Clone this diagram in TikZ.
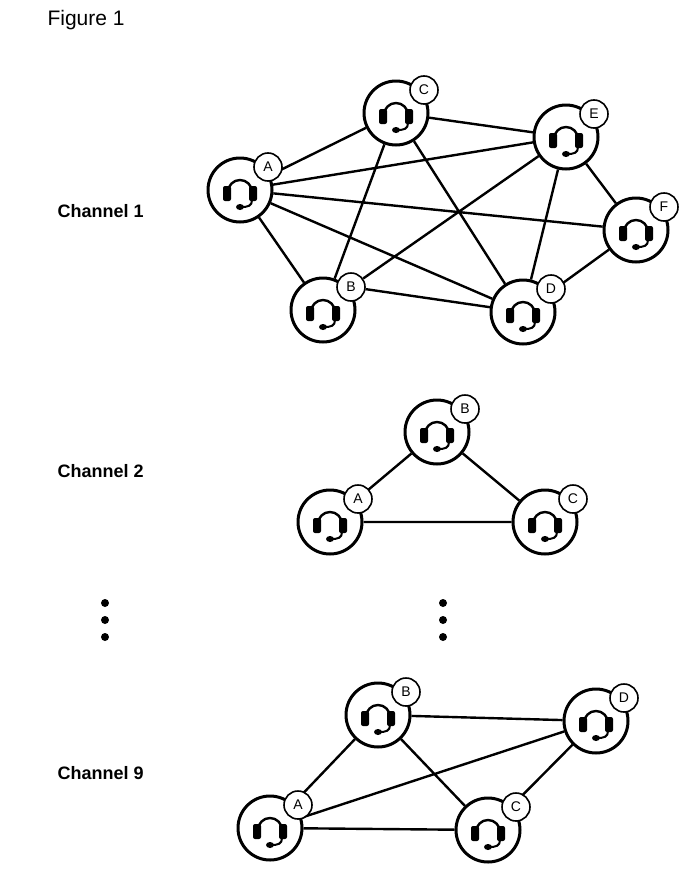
\documentclass[tikz,border=0pt]{standalone}
\usepackage{fontspec}
\setmainfont{Liberation Sans}
\usetikzlibrary{calc,backgrounds}
\begin{document}
\begin{tikzpicture}[x=1pt,y=-1pt,
  hs/.style={circle,draw,line width=3pt,minimum size=64pt,inner sep=0pt,fill=white},
  lb/.style={circle,draw,line width=1.6pt,minimum size=28pt,inner sep=0pt,fill=white,font=\fontsize{14}{14}\selectfont},
  ed/.style={line width=2.4pt},
  ch/.style={font=\bfseries\fontsize{18}{18}\selectfont,anchor=west},
  dot/.style={circle,fill,inner sep=0pt,minimum size=8pt}]
\useasboundingbox (0,0) rectangle (698,889);
\node[anchor=west,font=\fontsize{21}{21}\selectfont] (fig) at (44,20) {Figure 1};
\newcommand{\mkhs}[4]{%
  \node[hs] (#1) at (#2,#3) {};
  \begin{scope}[shift={(#2,#3)}]
   \draw[line width=2.4pt] (-12,2) arc[start angle=180,end angle=360,radius=12];
   \fill[rounded corners=2pt] (-17,-4) rectangle (-9,11);
   \fill[rounded corners=2pt] (9,-4) rectangle (17,11);
   \draw[line width=2pt] (12,10) .. controls (12,16) and (8,17) .. (1,17);
   \fill (0,17) ellipse (4 and 3);
  \end{scope}
  \node[lb] (#1l) at ($(#2,#3)+(28,-23)$) {#4};}
% Channel 1
\node[ch] (ch1) at (54,211) {Channel 1};
\mkhs{a1}{240}{190}{A}
\mkhs{c1}{396}{113}{C}
\mkhs{e1}{566}{137}{E}
\mkhs{f1}{636}{230}{F}
\mkhs{b1}{323}{310}{B}
\mkhs{d1}{523}{312}{D}
\begin{scope}[on background layer]
\draw[ed] (a1)--(c1) (a1)--(e1) (a1)--(f1) (a1)--(d1) (a1)--(b1)
  (c1)--(e1) (c1)--(b1) (c1)--(d1) (e1)--(b1l) (e1)--(d1) (e1)--(f1)
  (b1l)--(d1) (f1)--(d1);
\end{scope}
% Channel 2
\node[ch] (ch2) at (54,471) {Channel 2};
\mkhs{b2}{437}{432}{B}
\mkhs{a2}{330}{522}{A}
\mkhs{c2}{545}{522}{C}
\begin{scope}[on background layer]
\draw[ed] (a2)--(b2) (b2)--(c2) (a2)--(c2);
\end{scope}
% Channel 9
\node[ch] (ch9) at (54,773) {Channel 9};
\mkhs{b9}{378}{715}{B}
\mkhs{d9}{596}{721}{D}
\mkhs{a9}{270}{828}{A}
\mkhs{c9}{488}{830}{C}
\begin{scope}[on background layer]
\draw[ed] (a9)--(b9) (a9)--(c9) (a9)--(d9) (b9)--(c9) (b9)--(d9) (c9)--(d9);
\end{scope}
% dots
\node[dot] (p1) at (105,603) {};
\node[dot] (p2) at (105,620) {};
\node[dot] (p3) at (105,637) {};
\node[dot] (q1) at (443,603) {};
\node[dot] (q2) at (443,620) {};
\node[dot] (q3) at (443,637) {};
\end{tikzpicture}
\end{document}
